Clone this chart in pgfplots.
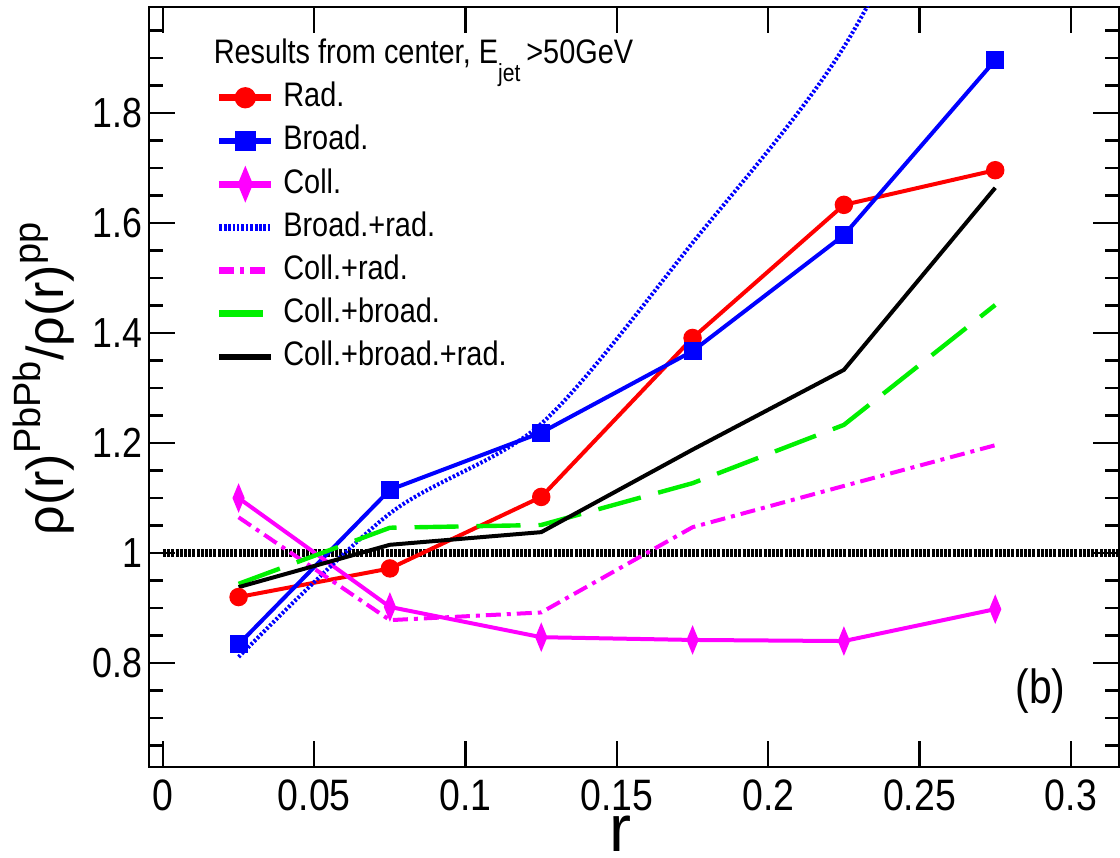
\documentclass[border=0pt]{standalone}
\usepackage{fontspec}
\setmainfont{Liberation Sans}[FakeStretch=0.85]
\newfontfamily\widefont{Liberation Sans}
\usepackage{pgfplots}
\pgfplotsset{compat=1.18}
\definecolor{rootred}{RGB}{255,0,0}
\definecolor{rootblue}{RGB}{0,0,255}
\definecolor{rootmag}{RGB}{255,0,255}
\definecolor{rootgreen}{RGB}{0,240,0}
\begin{document}
\begin{tikzpicture}
\path[use as bounding box] (-37.25pt,-22.5pt) rectangle (242.75pt,191.75pt);
\begin{axis}[
  at={(0,0)}, anchor=south west,
  scale only axis, width=242.5pt, height=190pt,
  xmin=-0.0046, xmax=0.3159, ymin=0.611, ymax=1.9927,
  xtick={0,0.05,0.1,0.15,0.2,0.25,0.3},
  ytick={0.8,1,1.2,1.4,1.6,1.8},
  minor ytick={0.65,0.7,0.75,0.85,0.9,0.95,1.05,1.1,1.15,1.25,1.3,1.35,1.45,1.5,1.55,1.65,1.7,1.75,1.85,1.9,1.95},
  scaled x ticks=false, scaled y ticks=false,
  xticklabel={\pgfmathprintnumber[fixed,precision=2]{\tick}},
  yticklabel={\pgfmathprintnumber[fixed,precision=1]{\tick}},
  tick align=inside,
  major tick length=6.5pt, minor tick length=3.6pt,
  axis line style={line width=0.6pt},
  every tick/.style={black, line width=0.6pt},
  /pgf/number format/assume math mode=true,
  xticklabel style={font=\fontsize{11}{11}\selectfont, inner sep=3pt},
  yticklabel style={font=\fontsize{10.5}{10.5}\selectfont, inner sep=1.5pt},
  clip=true,
  legend style={at={(rel axis cs:0.069,0.909)}, anchor=north west, draw=none, fill=none,
    inner sep=0pt, outer sep=0pt, row sep=0pt, column sep=1pt,
    font=\fontsize{8.5}{8.5}\selectfont,
    nodes={inner sep=1.15pt, text height=6.5pt, text depth=2pt}},
  legend cell align=left,
  legend image code/.code={\draw[mark repeat=2,mark phase=2,#1,line width=1.7pt] plot coordinates {(0pt,0pt) (6.5pt,0pt) (13pt,0pt)};},
]
% reference line at 1
\addplot[black, line width=2pt, dash pattern=on 0.75pt off 0.3pt, forget plot] coordinates {(0,1) (0.32,1)};

\addplot[rootred, line width=1pt, mark=*, mark size=1.8pt, mark options={solid}] coordinates {
(0.025,0.920) (0.075,0.972) (0.125,1.102) (0.175,1.391) (0.225,1.633) (0.275,1.696)};
\addlegendentry{Rad.}

\addplot[rootblue, line width=1pt, mark=square*, mark size=1.75pt, mark options={solid}] coordinates {
(0.025,0.834) (0.075,1.115) (0.125,1.219) (0.175,1.367) (0.225,1.578) (0.275,1.896)};
\addlegendentry{Broad.}

\addplot[rootmag, line width=1pt, mark=diamond*, mark size=2.4pt, mark options={solid, xscale=0.55}] coordinates {
(0.025,1.100) (0.075,0.902) (0.125,0.847) (0.175,0.842) (0.225,0.840) (0.275,0.898)};
\addlegendentry{Coll.}

\addplot[rootblue, line width=1pt, dash pattern=on 0.6pt off 0.5pt, smooth, tension=0.5] coordinates {
(0.025,0.811) (0.075,1.072) (0.125,1.235) (0.175,1.564) (0.225,1.920) (0.275,2.45)};
\addlegendentry{Broad.+rad.}

\addplot[rootmag, line width=1pt, dash pattern=on 3.75pt off 1.5pt on 1pt off 1.5pt] coordinates {
(0.025,1.065) (0.075,0.878) (0.125,0.892) (0.175,1.047) (0.225,1.122) (0.275,1.196)};
\addlegendentry{Coll.+rad.}

\addplot[rootgreen, line width=1.1pt, dash pattern=on 11pt off 4.5pt] coordinates {
(0.025,0.944) (0.075,1.046) (0.125,1.051) (0.175,1.127) (0.225,1.233) (0.275,1.451)};
\addlegendentry{Coll.+broad.}

\addplot[black, line width=1pt] coordinates {
(0.025,0.938) (0.075,1.015) (0.125,1.038) (0.175,1.188) (0.225,1.333) (0.275,1.664)};
\addlegendentry{Coll.+broad.+rad.}

\node[anchor=base west, inner sep=0pt, font=\fontsize{8.5}{8.5}\selectfont] at (rel axis cs:0.066,0.926)
  {Results from center, E\raisebox{-4.6pt}{\fontsize{6.2}{6.2}\selectfont jet}\hspace{1.5pt}>50GeV};
\node[anchor=center, inner sep=0pt, font=\fontsize{12}{12}\selectfont] at (rel axis cs:0.919,0.1)
  {(b)};
\end{axis}
% axis titles (axis box south west is at (0,0); 1 px = 0.25pt)
\node[anchor=base, inner sep=0pt, font=\widefont\fontsize{16.5}{16.5}\selectfont] at (117.75pt,-21pt) {r};
\node[anchor=base, rotate=90, inner sep=0pt, font=\widefont\fontsize{13}{13}\selectfont] at (-21.5pt,97pt)
  {ρ(r)\raisebox{5.5pt}{\fontsize{9.5}{9.5}\selectfont PbPb}/ρ(r)\raisebox{5.5pt}{\fontsize{9.5}{9.5}\selectfont pp}};
\end{tikzpicture}
\end{document}
